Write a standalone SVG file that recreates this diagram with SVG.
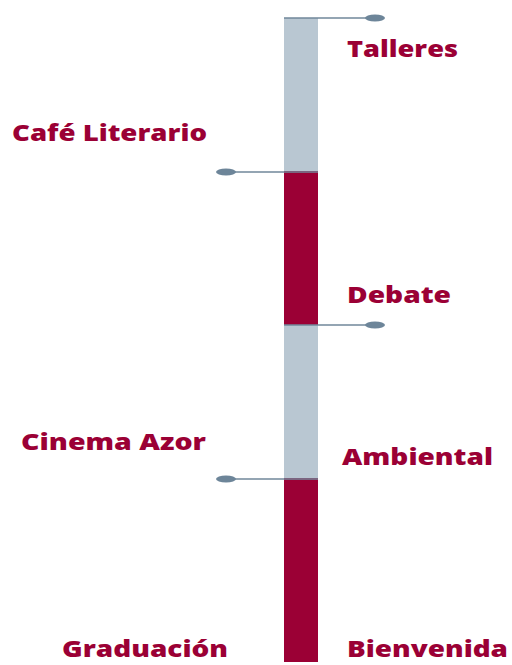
<svg xmlns="http://www.w3.org/2000/svg" width="512" height="665" viewBox="0 0 512 665">
<style>
.lbl{font-family:"Open Sans","Liberation Sans",sans-serif;font-weight:800;font-size:23px;fill:#9b0035}
.g{fill:#b9c7d2}
.r{fill:#9b0035}
.ln{stroke:#71879a;stroke-width:1.5;fill:none}
.dot{fill:#6d8599}
</style>
<rect width="512" height="665" fill="#fff"/>
<g id="bar">
<rect class="g" x="284" y="18" width="34" height="153"/>
<rect class="r" x="284" y="171" width="34" height="154"/>
<rect class="g" x="284" y="325" width="34" height="153"/>
<rect class="r" x="284" y="478" width="34" height="184"/>
</g>
<g id="connectors">
<line class="ln" x1="284" y1="18" x2="370" y2="18"/>
<ellipse class="dot" cx="375" cy="18" rx="10" ry="3.5"/>
<line class="ln" x1="230" y1="172" x2="318" y2="172"/>
<ellipse class="dot" cx="226" cy="172" rx="10" ry="3.5"/>
<line class="ln" x1="284" y1="325" x2="370" y2="325"/>
<ellipse class="dot" cx="375" cy="325" rx="10" ry="3.5"/>
<line class="ln" x1="230" y1="479" x2="318" y2="479"/>
<ellipse class="dot" cx="226" cy="479" rx="10" ry="3.5"/>
</g>
<g id="talleres"><text class="lbl" x="347" y="57" textLength="111" lengthAdjust="spacingAndGlyphs">Talleres</text></g>
<g id="cafe"><text class="lbl" x="12" y="141" textLength="195" lengthAdjust="spacingAndGlyphs">Café Literario</text></g>
<g id="debate"><text class="lbl" x="347" y="303" textLength="104" lengthAdjust="spacingAndGlyphs">Debate</text></g>
<g id="cinema"><text class="lbl" x="21" y="450" textLength="185" lengthAdjust="spacingAndGlyphs">Cinema Azor</text></g>
<g id="ambiental"><text class="lbl" x="342" y="465" textLength="151" lengthAdjust="spacingAndGlyphs">Ambiental</text></g>
<g id="graduacion"><text class="lbl" x="62" y="657" textLength="166" lengthAdjust="spacingAndGlyphs">Graduación</text></g>
<g id="bienvenida"><text class="lbl" x="347" y="657" textLength="161" lengthAdjust="spacingAndGlyphs">Bienvenida</text></g>
</svg>
